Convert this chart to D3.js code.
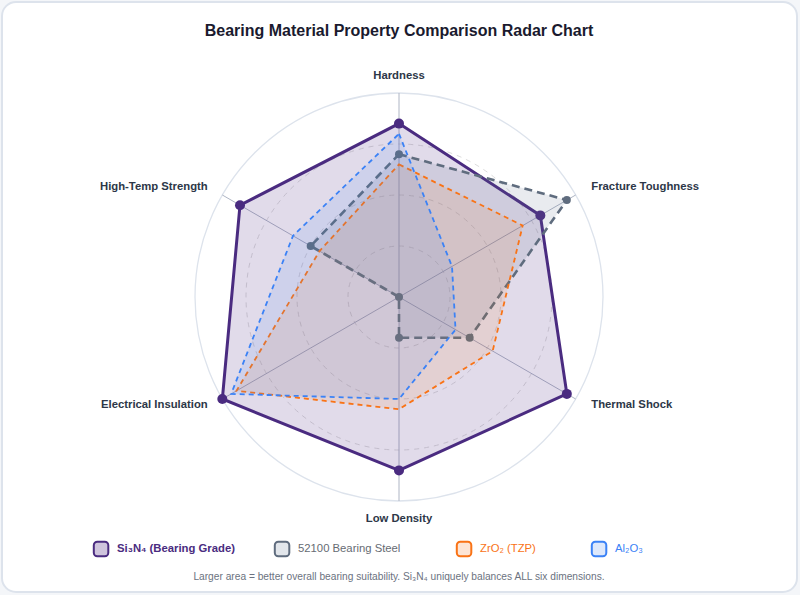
<!DOCTYPE html>
<html>
<head>
<meta charset="utf-8">
<script src="https://cdn.jsdelivr.net/npm/d3@7"></script>
<style>
  html, body { margin: 0; padding: 0; background: #f4f6f9; }
  body { width: 800px; height: 595px; overflow: hidden; font-family: "Liberation Sans", Arial, Helvetica, sans-serif; }
</style>
</head>
<body>
<svg id="chart" width="800" height="595"></svg>
<script>
const axes = ["Hardness", "Fracture Toughness", "Thermal Shock", "Low Density", "Electrical Insulation", "High-Temp Strength"];
const seriesNames = ["Si₃N₄ (Bearing Grade)", "52100 Bearing Steel", "ZrO₂ (TZP)", "Al₂O₃"];
const si3n4 = [8.5, 8, 9.5, 8.5, 10, 9];
const steel = [7, 9.5, 4, 2, 0, 5];
const zro2 = [6.5, 7, 5.3, 5.5, 9.2, 4.5];
const al2o3 = [8, 3, 3.2, 5, 9.5, 6];
const gridLevels = [2.5, 5, 7.5, 10];
const title = "Bearing Material Property Comparison Radar Chart";
const footnote = "Larger area = better overall bearing suitability. Si₃N₄ uniquely balances ALL six dimensions.";

const styles = [
  {stroke: "#4a2b80", fill: "rgba(76,42,133,0.17)", width: 3, dash: null, dot: 5, legendFill: "#cfc4dd", legendText: "#4a2b80", bold: true},
  {stroke: "#5f6c7e", fill: "rgba(100,116,139,0.14)", width: 2.6, dash: "8,5", dot: 4, legendFill: "#e2e6eb", legendText: "#666b73", bold: false},
  {stroke: "#f97316", fill: "rgba(249,115,22,0.11)", width: 1.8, dash: "5,4", dot: 0, legendFill: "#fde5d5", legendText: "#f97316", bold: false},
  {stroke: "#3b82f6", fill: "rgba(59,130,246,0.11)", width: 1.8, dash: "5,4", dot: 0, legendFill: "#dde8fb", legendText: "#3b82f6", bold: false}
];
const data = [si3n4, steel, zro2, al2o3];

const svg = d3.select("#chart");
const W = 800, H = 595;
const cx = 399, cy = 297, R = 204;

// card
svg.append("rect").attr("x", 2).attr("y", 2).attr("width", W - 5).attr("height", H - 5)
  .attr("rx", 14).attr("fill", "#ffffff").attr("stroke", "#dde3ec").attr("stroke-width", 2);

svg.append("text").attr("x", cx).attr("y", 36).attr("text-anchor", "middle")
  .attr("font-size", 16).attr("font-weight", "bold").attr("fill", "#1a1a2e").text(title);

const r = d3.scaleLinear().domain([0, 10]).range([0, R]);
const angle = d3.scalePoint().domain(d3.range(axes.length + 1)).range([0, 2 * Math.PI]);
const g = svg.append("g").attr("transform", `translate(${cx},${cy})`);

// grid
g.selectAll("circle.grid").data(gridLevels).join("circle")
  .attr("r", d => r(d)).attr("fill", "none")
  .attr("stroke", d => d === 10 ? "#dde3ec" : "#dcdcdc")
  .attr("stroke-width", d => d === 10 ? 1.3 : 1)
  .attr("stroke-dasharray", d => d === 10 ? null : "5,5");

const px = (i, v) => Math.sin(angle(i)) * r(v);
const py = (i, v) => -Math.cos(angle(i)) * r(v);

g.selectAll("line.axis").data(axes).join("line")
  .attr("x1", 0).attr("y1", 0)
  .attr("x2", (d, i) => px(i, 10)).attr("y2", (d, i) => py(i, 10))
  .attr("stroke", "#aeb5c4").attr("stroke-width", 1);

// axis labels
const isVertical = i => Math.abs(Math.sin(angle(i))) < 0.01;
g.selectAll("text.axlab").data(axes).join("text")
  .attr("x", (d, i) => {
    const s = Math.sin(angle(i));
    return isVertical(i) ? 0 : s * 218 + (s > 0 ? 3.5 : -2.5);
  })
  .attr("y", (d, i) => isVertical(i) ? -Math.cos(angle(i)) * 221.5 + 1 : -Math.cos(angle(i)) * 218 - 0.5)
  .attr("text-anchor", (d, i) => {
    const s = Math.sin(angle(i));
    return isVertical(i) ? "middle" : (s > 0 ? "start" : "end");
  })
  .attr("dominant-baseline", "middle")
  .attr("font-size", 11.3).attr("font-weight", "bold").attr("fill", "#2d3748")
  .text(d => d);

const line = d3.lineRadial()
  .angle((d, i) => angle(i))
  .radius(d => r(d))
  .curve(d3.curveLinearClosed);

data.forEach((vals, k) => {
  const st = styles[k];
  g.append("path").attr("d", line(vals))
    .attr("fill", st.fill).attr("stroke", st.stroke)
    .attr("stroke-width", st.width)
    .attr("stroke-dasharray", st.dash)
    .attr("stroke-linejoin", "miter");
  if (st.dot) {
    g.selectAll(null).data(vals).join("circle")
      .attr("cx", (d, i) => px(i, d)).attr("cy", (d, i) => py(i, d))
      .attr("r", st.dot).attr("fill", st.stroke);
  }
});

// legend (item start positions are layout, not data)
const legendStarts = [93, 274, 456, 591];
const legend = svg.append("g").attr("transform", "translate(0,549)");
seriesNames.forEach((name, k) => {
  const st = styles[k];
  const item = legend.append("g").attr("transform", `translate(${legendStarts[k]},0)`);
  item.append("rect").attr("x", 0.8).attr("y", -7.2).attr("width", 14.5).attr("height", 14.5)
    .attr("rx", 3.5).attr("fill", st.legendFill).attr("stroke", st.stroke).attr("stroke-width", 2);
  item.append("text").attr("x", 24).attr("y", 0.5).attr("dominant-baseline", "middle")
    .attr("font-size", 11.3).attr("font-weight", st.bold ? "bold" : "normal")
    .attr("fill", st.legendText).text(name);
});

svg.append("text").attr("x", cx).attr("y", 577).attr("text-anchor", "middle")
  .attr("dominant-baseline", "middle")
  .attr("font-size", 10.2).attr("fill", "#6b7280").text(footnote);
</script>
</body>
</html>
